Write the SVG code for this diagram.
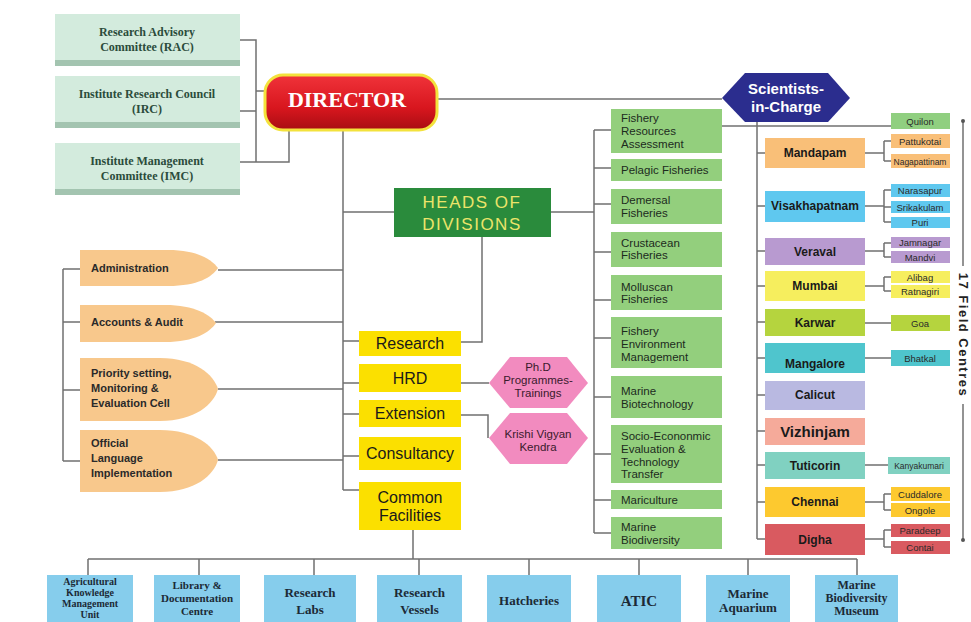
<svg xmlns="http://www.w3.org/2000/svg" width="971" height="622" viewBox="0 0 971 622">
<defs>
<linearGradient id="gDir" x1="0" y1="0" x2="0" y2="1">
<stop offset="0" stop-color="#f0333a"/>
<stop offset="0.6" stop-color="#d8161e"/>
<stop offset="1" stop-color="#a80d12"/>
</linearGradient>
<style>
.ln{fill:none;stroke:#707070;stroke-width:1.5}
.cm{fill:#d3ebdd}
.cmb{fill:#a3c4b0}
.cmt{font-family:"Liberation Serif",serif;font-weight:bold;font-size:12px;fill:#2b4c3b;text-anchor:middle}
.or{fill:#f8c88c}
.ort{font-family:"Liberation Sans",sans-serif;font-weight:bold;font-size:11px;fill:#2a2a2a}
.ye{fill:#fbe000}
.yet{font-family:"Liberation Sans",sans-serif;font-size:16px;fill:#1a1a1a;text-anchor:middle}
.gr{fill:#93cf7d}
.grt{font-family:"Liberation Sans",sans-serif;font-size:11.5px;fill:#1d2b1d}
.fc{font-family:"Liberation Sans",sans-serif;font-weight:bold;font-size:12px;fill:#1a1a1a;text-anchor:middle}
.sb{font-family:"Liberation Sans",sans-serif;font-size:9.5px;fill:#2a2a2a;text-anchor:middle}
.bl{fill:#86cdec}
.blt{font-family:"Liberation Serif",serif;font-weight:bold;font-size:12px;fill:#1c2a36;text-anchor:middle}
.pk{fill:#f28bbf}
.pkt{font-family:"Liberation Sans",sans-serif;font-size:11.5px;fill:#3a1a2c;text-anchor:middle}
</style>
</defs>
<rect width="971" height="622" fill="#ffffff"/>

<g id="connectors">
<path class="ln" d="M240,40 H256 V162 M256,91 H265 M240,111 H256 M240,162 H289 V130"/>
<path class="ln" d="M437,99 H722"/>
<path class="ln" d="M343,130 V490 M343,212 H394 M551,212 H594 M482,237 V342 H461"/>
<path class="ln" d="M63,269 V461 M63,269 H80 M63,322 H80 M63,390 H80 M63,461 H80"/>
<path class="ln" d="M218,270 H343 M215,322 H343 M218,389 H343 M218,460 H343"/>
<path class="ln" d="M343,341 H359 M343,383 H359 M343,414 H359 M343,456 H359 M343,490 H359"/>
<path class="ln" d="M461,383 H489 M461,415 H488 V438"/>
<path class="ln" d="M594,130 V533 M594,130 H611 M594,168 H611 M594,204 H611 M594,252 H611 M594,300 H611 M594,338 H611 M594,397 H611 M594,454 H611 M594,500 H611 M594,533 H611"/>
<path class="ln" d="M722,126 H891"/>
<path class="ln" d="M757,122 V539 M757,153 H765 M757,206 H765 M757,251 H765 M757,286 H765 M757,322 H765 M757,358 H765 M757,395 H765 M757,431 H765 M757,465 H765 M757,502 H765 M757,539 H765"/>
<path class="ln" d="M865,153 H884 M884,141 V161 M884,141 H891 M884,161 H891"/>
<path class="ln" d="M865,206 H884 M884,190 V222 M884,190 H891 M884,207 H891 M884,222 H891"/>
<path class="ln" d="M865,251 H884 M884,243 V257 M884,243 H891 M884,257 H891"/>
<path class="ln" d="M865,286 H884 M884,277 V291 M884,277 H891 M884,291 H891"/>
<path class="ln" d="M865,323 H891 M865,358 H891 M865,465 H888"/>
<path class="ln" d="M865,502 H884 M884,494 V510 M884,494 H891 M884,510 H891"/>
<path class="ln" d="M865,539 H884 M884,530 V547 M884,530 H891 M884,547 H891"/>
<path class="ln" d="M413,530 V559 M88,559 H857 M88,559 V575 M199,559 V575 M314,559 V575 M419,559 V575 M529,559 V575 M639,559 V575 M748,559 V575 M857,559 V575"/>
<path class="ln" d="M963,121 V266 M963,404 V540"/>
<circle cx="963" cy="121" r="2" fill="#555"/>
<circle cx="963" cy="540" r="2" fill="#555"/>
</g>

<g id="rac"><rect class="cm" x="55" y="14" width="185" height="46"/><rect class="cmb" x="55" y="60" width="185" height="6"/><text class="cmt" x="147" y="36">Research Advisory</text><text class="cmt" x="147" y="51">Committee (RAC)</text></g>
<g id="irc"><rect class="cm" x="55" y="76" width="185" height="46"/><rect class="cmb" x="55" y="122" width="185" height="6"/><text class="cmt" x="147" y="98">Institute Research Council</text><text class="cmt" x="147" y="113">(IRC)</text></g>
<g id="imc"><rect class="cm" x="55" y="143" width="185" height="46"/><rect class="cmb" x="55" y="189" width="185" height="6"/><text class="cmt" x="147" y="165">Institute Management</text><text class="cmt" x="147" y="180">Committee (IMC)</text></g>

<g id="director"><rect x="265" y="75" width="172" height="55" rx="18" fill="url(#gDir)" stroke="#f3e23c" stroke-width="3"/><text x="347" y="107" font-family="Liberation Serif,serif" font-weight="bold" font-size="22" fill="#ffffff" text-anchor="middle">DIRECTOR</text></g>

<g id="sic"><polygon points="722,98 745,73 828,73 850,98 828,122 745,122" fill="#2b2d8e"/><text x="786" y="94" font-family="Liberation Sans,sans-serif" font-weight="bold" font-size="15" fill="#ffffff" text-anchor="middle">Scientists-</text><text x="786" y="112" font-family="Liberation Sans,sans-serif" font-weight="bold" font-size="15" fill="#ffffff" text-anchor="middle">in-Charge</text></g>

<g id="heads"><rect x="394" y="188" width="157" height="49" fill="#2a8b3c"/><text x="472" y="208" font-family="Liberation Sans,sans-serif" font-size="17" letter-spacing="1.5" fill="#ece46a" text-anchor="middle">HEADS OF</text><text x="472" y="230" font-family="Liberation Sans,sans-serif" font-size="17" letter-spacing="1.5" fill="#ece46a" text-anchor="middle">DIVISIONS</text></g>

<g id="administration"><path class="or" d="M80,250 H168 C198,250 212,260 218,268 C212,277 198,286 168,286 H80 Z"/><text class="ort" x="91" y="272">Administration</text></g>
<g id="accounts"><path class="or" d="M80,305 H165 C195,305 210,315 216,323 C210,332 195,342 165,342 H80 Z"/><text class="ort" x="91" y="326">Accounts &amp; Audit</text></g>
<g id="priority"><path class="or" d="M80,358 H160 C195,358 214,375 218,389 C214,404 195,421 160,421 H80 Z"/><text class="ort" x="91" y="377">Priority setting,</text><text class="ort" x="91" y="392">Monitoring &amp;</text><text class="ort" x="91" y="407">Evaluation Cell</text></g>
<g id="official"><path class="or" d="M80,430 H160 C195,430 214,446 218,460 C214,475 195,492 160,492 H80 Z"/><text class="ort" x="91" y="447">Official</text><text class="ort" x="91" y="462">Language</text><text class="ort" x="91" y="477">Implementation</text></g>

<g id="research"><rect class="ye" x="359" y="331" width="102" height="25"/><text class="yet" x="410" y="349">Research</text></g>
<g id="hrd"><rect class="ye" x="359" y="364" width="102" height="28"/><text class="yet" x="410" y="384">HRD</text></g>
<g id="extension"><rect class="ye" x="359" y="400" width="102" height="27"/><text class="yet" x="410" y="419">Extension</text></g>
<g id="consultancy"><rect class="ye" x="359" y="437" width="102" height="33"/><text class="yet" x="410" y="459">Consultancy</text></g>
<g id="common"><rect class="ye" x="359" y="482" width="102" height="48"/><text class="yet" x="410" y="503">Common</text><text class="yet" x="410" y="521">Facilities</text></g>

<g id="phd"><polygon class="pk" points="489,383 510,357 567,357 588,383 567,408 510,408"/><text class="pkt" x="538" y="371">Ph.D</text><text class="pkt" x="538" y="384">Programmes-</text><text class="pkt" x="538" y="397">Trainings</text></g>
<g id="kvk"><polygon class="pk" points="489,438 510,413 567,413 588,438 567,464 510,464"/><text class="pkt" x="538" y="438">Krishi  Vigyan</text><text class="pkt" x="538" y="451">Kendra</text></g>

<g id="d-fra"><rect class="gr" x="611" y="109" width="111" height="44"/><text class="grt" x="621" y="122">Fishery</text><text class="grt" x="621" y="135">Resources</text><text class="grt" x="621" y="148">Assessment</text></g>
<g id="d-pel"><rect class="gr" x="611" y="159" width="111" height="22"/><text class="grt" x="621" y="174">Pelagic Fisheries</text></g>
<g id="d-dem"><rect class="gr" x="611" y="189" width="111" height="35"/><text class="grt" x="621" y="204">Demersal</text><text class="grt" x="621" y="217">Fisheries</text></g>
<g id="d-cru"><rect class="gr" x="611" y="232" width="111" height="35"/><text class="grt" x="621" y="247">Crustacean</text><text class="grt" x="621" y="259">Fisheries</text></g>
<g id="d-mol"><rect class="gr" x="611" y="275" width="111" height="35"/><text class="grt" x="621" y="291">Molluscan</text><text class="grt" x="621" y="303">Fisheries</text></g>
<g id="d-fem"><rect class="gr" x="611" y="317" width="111" height="51"/><text class="grt" x="621" y="335">Fishery</text><text class="grt" x="621" y="348">Environment</text><text class="grt" x="621" y="361">Management</text></g>
<g id="d-mbt"><rect class="gr" x="611" y="376" width="111" height="42"/><text class="grt" x="621" y="395">Marine</text><text class="grt" x="621" y="408">Biotechnology</text></g>
<g id="d-soc"><rect class="gr" x="611" y="425" width="111" height="58"/><text class="grt" x="621" y="440">Socio-Econonmic</text><text class="grt" x="621" y="453">Evaluation  &amp;</text><text class="grt" x="621" y="466">Technology</text><text class="grt" x="621" y="478">Transfer</text></g>
<g id="d-mar"><rect class="gr" x="611" y="490" width="111" height="19"/><text class="grt" x="621" y="504">Mariculture</text></g>
<g id="d-mbd"><rect class="gr" x="611" y="517" width="111" height="32"/><text class="grt" x="621" y="531">Marine</text><text class="grt" x="621" y="544">Biodiversity</text></g>

<g id="fc-mandapam"><rect x="765" y="138" width="100" height="30" fill="#f9bf78"/><text class="fc" x="815" y="157">Mandapam</text></g>
<g id="fc-visakhapatnam"><rect x="765" y="191" width="100" height="31" fill="#5fc8ef"/><text class="fc" x="815" y="210">Visakhapatnam</text></g>
<g id="fc-veraval"><rect x="765" y="238" width="100" height="27" fill="#b89ad0"/><text class="fc" x="815" y="256">Veraval</text></g>
<g id="fc-mumbai"><rect x="765" y="271" width="100" height="30" fill="#f6ee5e"/><text class="fc" x="815" y="290">Mumbai</text></g>
<g id="fc-karwar"><rect x="765" y="309" width="100" height="27" fill="#b5d43e"/><text class="fc" x="815" y="327">Karwar</text></g>
<g id="fc-mangalore"><rect x="765" y="343" width="100" height="30" fill="#4fc5cd"/><text class="fc" x="815" y="368">Mangalore</text></g>
<g id="fc-calicut"><rect x="765" y="381" width="100" height="29" fill="#b9b9e1"/><text class="fc" x="815" y="399">Calicut</text></g>
<g id="fc-vizhinjam"><rect x="765" y="418" width="100" height="27" fill="#f5aa9a"/><text class="fc" x="815" y="437" style="font-size:15px">Vizhinjam</text></g>
<g id="fc-tuticorin"><rect x="765" y="452" width="100" height="27" fill="#80d1c1"/><text class="fc" x="815" y="470">Tuticorin</text></g>
<g id="fc-chennai"><rect x="765" y="487" width="100" height="30" fill="#fdc92f"/><text class="fc" x="815" y="506">Chennai</text></g>
<g id="fc-digha"><rect x="765" y="524" width="100" height="31" fill="#d95a60"/><text class="fc" x="815" y="544">Digha</text></g>

<g id="sub-quilon"><rect x="891" y="113" width="59" height="16" fill="#90cf80"/><text class="sb" x="920" y="124.5">Quilon</text></g>
<g id="sub-pattukotai"><rect x="891" y="134" width="59" height="14" fill="#f9bf78"/><text class="sb" x="920" y="144.5">Pattukotai</text></g>
<g id="sub-nagapattinam"><rect x="891" y="154" width="59" height="14" fill="#f9bf78"/><text class="sb" x="920" y="164.5" style="font-size:8.5px">Nagapattinam</text></g>
<g id="sub-narasapur"><rect x="891" y="184" width="59" height="13" fill="#5fc8ef"/><text class="sb" x="920" y="194">Narasapur</text></g>
<g id="sub-srikakulam"><rect x="891" y="201" width="59" height="12" fill="#5fc8ef"/><text class="sb" x="920" y="210.5">Srikakulam</text></g>
<g id="sub-puri"><rect x="891" y="217" width="59" height="11" fill="#5fc8ef"/><text class="sb" x="920" y="226">Puri</text></g>
<g id="sub-jamnagar"><rect x="891" y="237" width="59" height="11" fill="#b89ad0"/><text class="sb" x="920" y="246">Jamnagar</text></g>
<g id="sub-mandvi"><rect x="891" y="251" width="59" height="12" fill="#b89ad0"/><text class="sb" x="920" y="260.5">Mandvi</text></g>
<g id="sub-alibag"><rect x="891" y="271" width="59" height="12" fill="#f6ee5e"/><text class="sb" x="920" y="280.5">Alibag</text></g>
<g id="sub-ratnagiri"><rect x="891" y="285" width="59" height="13" fill="#f6ee5e"/><text class="sb" x="920" y="295">Ratnagiri</text></g>
<g id="sub-goa"><rect x="891" y="315" width="59" height="16" fill="#b5d43e"/><text class="sb" x="920" y="326.5">Goa</text></g>
<g id="sub-bhatkal"><rect x="891" y="350" width="59" height="16" fill="#4fc5cd"/><text class="sb" x="920" y="361.5">Bhatkal</text></g>
<g id="sub-kanyakumari"><rect x="888" y="457" width="62" height="17" fill="#80d1c1"/><text class="sb" x="919" y="468.5" style="font-size:8.5px">Kanyakumari</text></g>
<g id="sub-cuddalore"><rect x="891" y="487" width="59" height="14" fill="#fdc92f"/><text class="sb" x="920" y="497.5">Cuddalore</text></g>
<g id="sub-ongole"><rect x="891" y="503" width="59" height="14" fill="#fdc92f"/><text class="sb" x="920" y="513.5">Ongole</text></g>
<g id="sub-paradeep"><rect x="891" y="524" width="59" height="13" fill="#d95a60"/><text class="sb" x="920" y="534">Paradeep</text></g>
<g id="sub-contai"><rect x="891" y="541" width="59" height="13" fill="#d95a60"/><text class="sb" x="920" y="551">Contai</text></g>

<g id="field-label"><text transform="translate(959,335) rotate(90)" font-family="Liberation Sans,sans-serif" font-weight="bold" font-size="13" fill="#222" text-anchor="middle" letter-spacing="1.5">17 Field Centres</text></g>

<g id="b-akmu"><rect class="bl" x="47" y="575" width="86" height="47"/><text class="blt" x="90" y="585" style="font-size:10px">Agricultural</text><text class="blt" x="90" y="596" style="font-size:10px">Knowledge</text><text class="blt" x="90" y="607" style="font-size:10px">Management</text><text class="blt" x="90" y="618" style="font-size:10px">Unit</text></g>
<g id="b-library"><rect class="bl" x="154" y="575" width="86" height="47"/><text class="blt" x="197" y="589" style="font-size:11px">Library &amp;</text><text class="blt" x="197" y="602" style="font-size:11px">Documentation</text><text class="blt" x="197" y="615" style="font-size:11px">Centre</text></g>
<g id="b-labs"><rect class="bl" x="264" y="575" width="92" height="47"/><text class="blt" x="310" y="597" style="font-size:13px">Research</text><text class="blt" x="310" y="614" style="font-size:13px">Labs</text></g>
<g id="b-vessels"><rect class="bl" x="377" y="575" width="85" height="47"/><text class="blt" x="419.5" y="597" style="font-size:13px">Research</text><text class="blt" x="419.5" y="614" style="font-size:13px">Vessels</text></g>
<g id="b-hatcheries"><rect class="bl" x="487" y="575" width="84" height="47"/><text class="blt" x="529" y="605" style="font-size:13px">Hatcheries</text></g>
<g id="b-atic"><rect class="bl" x="597" y="575" width="84" height="47"/><text class="blt" x="639" y="606" style="font-size:15px">ATIC</text></g>
<g id="b-aquarium"><rect class="bl" x="706" y="575" width="84" height="47"/><text class="blt" x="748" y="598" style="font-size:13px">Marine</text><text class="blt" x="748" y="612" style="font-size:13px">Aquarium</text></g>
<g id="b-museum"><rect class="bl" x="815" y="575" width="83" height="47"/><text class="blt" x="856.5" y="589" style="font-size:12px">Marine</text><text class="blt" x="856.5" y="602" style="font-size:12px">Biodiversity</text><text class="blt" x="856.5" y="615" style="font-size:12px">Museum</text></g>
</svg>
